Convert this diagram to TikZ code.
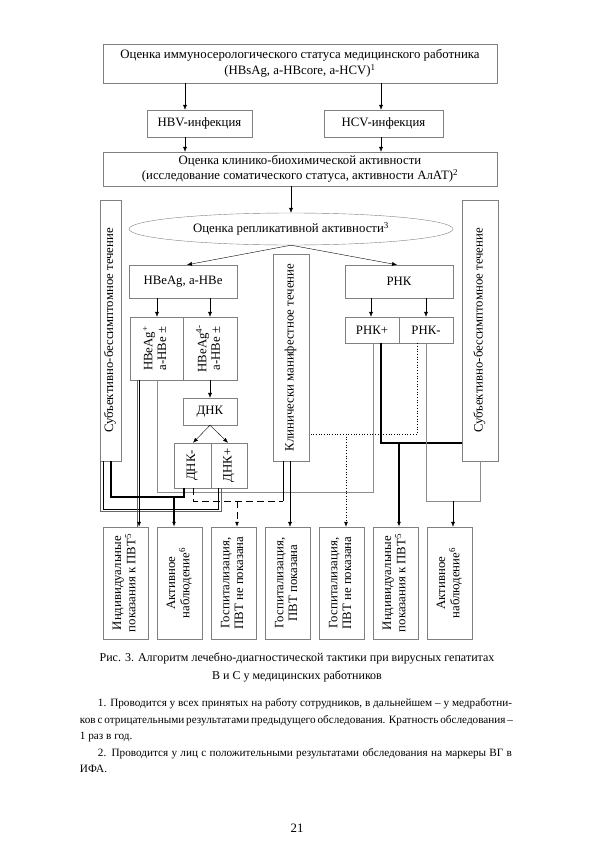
\documentclass[tikz,border=0pt]{standalone}
\usepackage{fontspec}
\setmainfont{Liberation Serif}
\usetikzlibrary{arrows.meta,shapes.geometric}

\newcommand{\vtext}[1]{\rotatebox{90}{\renewcommand{\arraystretch}{0.88}\begin{tabular}{@{}c@{}}#1\end{tabular}}}
\newcommand{\fullline}[1]{\makebox[432bp][s]{#1}}

\begin{document}
\begin{tikzpicture}[x=1bp,y=-1bp,
  every node/.style={font=\fontsize{12.8bp}{15.5bp}\selectfont},
  box/.style={draw=black!50, inner sep=0pt, align=center},
  arr/.style={-{Latex[length=5bp,width=4bp]}},
  thk/.style={line width=1.1bp},
  twin/.style={line width=0.6bp},
  gry/.style={draw=black!45},
  dsh/.style={dash pattern=on 7bp off 4bp, line width=0.8bp}]
\useasboundingbox (0,0) rectangle (594,841);

% upper part
\node[box, minimum width=394bp, minimum height=39bp] (immun) at (300,63.5)
  {Оценка иммуносерологического статуса медицинского работника\\(HBsAg, a-HBcore, a-HCV)\textsuperscript{1}};
\node[box, minimum width=105bp, minimum height=27bp] (hbv) at (199.5,123.5) {HBV-инфекция};
\node[box, minimum width=119bp, minimum height=27bp] (hcv) at (383.5,123.5) {HCV-инфекция};
\node[box, minimum width=394bp, minimum height=34bp] (klin) at (300,169)
  {Оценка клинико-биохимической активности\\(исследование соматического статуса, активности АлАТ)\textsuperscript{2}};
\node[draw=black!50, ellipse, inner sep=0pt, minimum width=324bp, minimum height=32bp] (repl) at (291,229)
  {Оценка репликативной активности\textsuperscript{3}};

% side columns
\node[box, minimum width=21bp, minimum height=261bp] (subL) at (110.5,330.5) {\vtext{Субъективно-бессимптомное течение}};
\node[box, minimum width=36bp, minimum height=261bp] (subR) at (480,330.5) {\vtext{Субъективно-бессимптомное течение}};
\node[box, minimum width=36bp, minimum height=207bp] (manif) at (291,357.5) {\vtext{Клинически манифестное течение}};

% HBV branch
\node[box, minimum width=108bp, minimum height=33bp] (hbe) at (183,281.5) {HBeAg, a-HBe};
\node[box, minimum width=53bp, minimum height=63bp] (hbeP) at (156.5,348.5) {\vtext{HBeAg\textsuperscript{+}\\a-HBe ±}};
\node[box, minimum width=54bp, minimum height=63bp] (hbeM) at (210,348.5) {\vtext{HBeAg\textsuperscript{4}\textsuperscript{-}\\a-HBe ±}};
\node[box, minimum width=54bp, minimum height=27bp] (dnk) at (210,411.5) {ДНК};
\node[box, minimum width=37bp, minimum height=45bp] (dnkM) at (192.5,465.5) {\vtext{ДНК-}};
\node[box, minimum width=36bp, minimum height=45bp] (dnkP) at (229,465.5) {\vtext{ДНК+}};

% HCV branch
\node[box, minimum width=108bp, minimum height=33bp] (rnk) at (399,281.5) {РНК};
\node[box, minimum width=54bp, minimum height=26bp] (rnkP) at (372,330) {РНК+};
\node[box, minimum width=54bp, minimum height=26bp] (rnkM) at (426,330) {РНК-};

% outcomes
\node[box, minimum width=45bp, minimum height=112bp] (indiv1) at (125.5,583) {\vtext{Индивидуальные\\показания к ПВТ\textsuperscript{5}}};
\node[box, minimum width=45bp, minimum height=112bp] (activ1) at (179.5,583) {\vtext{Активное\\наблюдение\textsuperscript{6}}};
\node[box, minimum width=45bp, minimum height=112bp] (hosp1) at (233.5,583) {\vtext{Госпитализация,\\ПВТ не показана}};
\node[box, minimum width=45bp, minimum height=112bp] (hosp2) at (287.5,583) {\vtext{Госпитализация,\\ПВТ показана}};
\node[box, minimum width=45bp, minimum height=112bp] (hosp3) at (341.5,583) {\vtext{Госпитализация,\\ПВТ не показана}};
\node[box, minimum width=45bp, minimum height=112bp] (indiv2) at (395.5,583) {\vtext{Индивидуальные\\показания к ПВТ\textsuperscript{5}}};
\node[box, minimum width=45bp, minimum height=112bp] (activ2) at (449.5,583) {\vtext{Активное\\наблюдение\textsuperscript{6}}};

% arrows, upper part
\draw[arr] (immun.south -| 185,0) -- (hbv.north -| 185,0);
\draw[arr] (immun.south -| 381,0) -- (hcv.north -| 381,0);
\draw[arr] (hbv.south -| 185,0) -- (klin.north -| 185,0);
\draw[arr] (hcv.south -| 381,0) -- (klin.north -| 381,0);
\draw[arr] (klin.south -| repl.north) -- (repl.north);
\draw[arr] (repl.south) -- (hbe.north -| 187,0);
\draw[arr] (repl.south) -- (rnk.north -| 397,0);
\draw[arr] (hbe.south -| 157,0) -- (hbeP.north -| 157,0);
\draw[arr] (hbe.south -| 210,0) -- (hbeM.north -| 210,0);
\draw[arr] (hbeM.south) -- (dnk.north);
\draw[arr] (dnk.south) -- (dnkM.north -| 193,0);
\draw[arr] (dnk.south) -- (dnkP.north -| 228,0);
\draw[arr] (rnk.south -| 371,0) -- (rnkP.north -| 371,0);
\draw[arr] (rnk.south -| 426,0) -- (rnkM.north -| 426,0);

% junctions
\coordinate (jA) at (174,497);
\coordinate (jB) at (283,501);
\coordinate (jC) at (346,434);
\coordinate (jD) at (399,443);
\coordinate (jE) at (453,501);

% lines to the outcomes
\draw[gry] (hbeP.south -| 157,0) |- (373,492) -- (rnkP.south -| 373,0);
% twin lines
\draw[twin, draw=black!60] (subL.south -| 100.6,0) |- (221,511.2) -- (dnkP.south -| 221,0);
\draw[twin] (subL.south -| 102.9,0) |- (218.7,508.9) -- (dnkP.south -| 218.7,0);
\draw[twin, draw=black!60] (hbeP.south -| 136.8,0) -- (indiv1.north -| 136.8,0);
\draw[twin, arr] (hbeP.south -| 139.1,0) -- (indiv1.north -| 139.1,0);
\draw[thk] (subL.south -| 111,0) |- (184,497) -- (dnkM.south -| 184,0);
\draw[thk, arr] (jA) -- (activ1.north -| jA);
\draw[dsh] (dnkM.south -| 193,0) |- (jB);
\draw[line width=0.6bp] (manif.south -| jB) -- (jB);
\draw[dsh, arr] (237,501) -- (hosp1.north -| 237,0);
\draw[arr] (manif.south -| 290,0) -- (hosp2.north -| 290,0);
\draw[dotted, line width=0.7bp] (rnkM.south -| 417,0) |- (manif.east |- jC);
\draw[dotted, line width=0.7bp, arr] (jC) -- (hosp3.north -| jC);
\draw[thk] (rnkP.south -| 381,0) |- (subR.west |- jD);
\draw[thk, arr] (jD) -- (indiv2.north -| jD);
\draw[gry] (rnkM.south -| 426,0) |- (480,501) -- (subR.south -| 480,0);
\draw[arr] (jE) -- (activ2.north -| jE);

% caption and notes
\node[align=center, font=\fontsize{12bp}{18bp}\selectfont] (capt) at (297,667)
  {Рис. 3. Алгоритм лечебно-диагностической тактики при вирусных гепатитах\\В и С у медицинских работников};
\node[align=left, font=\fontsize{11.2bp}{16.5bp}\selectfont] (notes) at (296,736)
  {\fullline{\hspace*{18bp}1. Проводится у всех принятых на работу сотрудников, в дальнейшем – у медработни-}\\
  \fullline{ков с отрицательными результатами предыдущего обследования. Кратность обследования –}\\
  1 раз в год.\\
  \fullline{\hspace*{18bp}2. Проводится у лиц с положительными результатами обследования на маркеры ВГ в}\\
  ИФА.};
\node (pg) at (297,828) {21};
\end{tikzpicture}
\end{document}
